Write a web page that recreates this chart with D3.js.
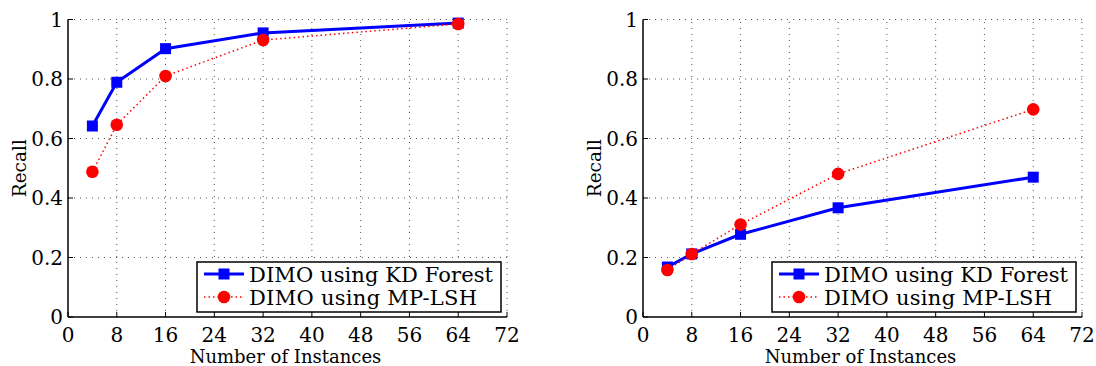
<!DOCTYPE html>
<html lang="en">
<head>
    <meta charset="UTF-8">
    <title>Recall vs Number of Instances</title>
    <script src="https://d3js.org/d3.v7.min.js"></script>
    <style>
        body { margin: 0; background: #fff; }
        svg text { font-family: "DejaVu Serif", serif; }
    </style>
</head>
<body>
    <svg width="1096" height="366"></svg>
    <script>
        // data
        const instances = [4, 8, 16, 32, 64];
        const leftKD = [0.642, 0.789, 0.902, 0.955, 0.988];
        const leftLSH = [0.488, 0.646, 0.810, 0.931, 0.985];
        const rightKD = [0.168, 0.212, 0.278, 0.367, 0.470];
        const rightLSH = [0.158, 0.212, 0.311, 0.481, 0.698];

        const xTicks = [0, 8, 16, 24, 32, 40, 48, 56, 64, 72];
        const yTicks = [0, 0.2, 0.4, 0.6, 0.8, 1];
        const yTickLabels = ["0", "0.2", "0.4", "0.6", "0.8", "1"];
        const legendNames = ["DIMO using KD Forest", "DIMO using MP-LSH"];

        const svg = d3.select("svg");

        function drawPanel(left, kd, lsh) {
            const w = 439, top = 19.5, bottom = 317;
            const x = d3.scaleLinear().domain([0, 72]).range([left, left + w]);
            const y = d3.scaleLinear().domain([0, 1]).range([bottom, top]);
            const g = svg.append("g");

            // dotted grid
            g.selectAll(".gx").data(xTicks.slice(1)).enter().append("line")
                .attr("x1", d => x(d)).attr("x2", d => x(d))
                .attr("y1", bottom).attr("y2", top)
                .attr("stroke", "#555").attr("stroke-width", 1)
                .attr("stroke-dasharray", "1,5");
            g.selectAll(".gy").data(yTicks.slice(1)).enter().append("line")
                .attr("x1", left).attr("x2", left + w)
                .attr("y1", d => y(d)).attr("y2", d => y(d))
                .attr("stroke", "#555").attr("stroke-width", 1)
                .attr("stroke-dasharray", "1,5");

            // axes lines + inward ticks
            g.append("line").attr("x1", left).attr("x2", left + w)
                .attr("y1", bottom).attr("y2", bottom).attr("stroke", "#000").attr("stroke-width", 1.5);
            g.append("line").attr("x1", left).attr("x2", left)
                .attr("y1", bottom).attr("y2", top).attr("stroke", "#000").attr("stroke-width", 1.5);
            g.selectAll(".tx").data(xTicks).enter().append("line")
                .attr("x1", d => x(d)).attr("x2", d => x(d))
                .attr("y1", bottom).attr("y2", bottom - 5).attr("stroke", "#000");
            g.selectAll(".ty").data(yTicks).enter().append("line")
                .attr("x1", left).attr("x2", left + 5)
                .attr("y1", d => y(d)).attr("y2", d => y(d)).attr("stroke", "#000");

            // tick labels
            g.selectAll(".lx").data(xTicks).enter().append("text")
                .attr("x", d => x(d)).attr("y", 342)
                .attr("text-anchor", "middle").attr("font-size", 20)
                .text(d => d);
            g.selectAll(".ly").data(yTicks).enter().append("text")
                .attr("x", left - 5).attr("y", d => y(d) + 7)
                .attr("text-anchor", "end").attr("font-size", 20)
                .text((d, i) => yTickLabels[i]);

            // axis titles
            g.append("text").attr("x", left + w / 2 - 2).attr("y", 363)
                .attr("text-anchor", "middle").attr("font-size", 18)
                .text("Number of Instances");
            g.append("text")
                .attr("transform", `translate(${left - 42},${(top + bottom) / 2}) rotate(-90)`)
                .attr("text-anchor", "middle").attr("font-size", 18.5)
                .text("Recall");

            const line = d3.line().x(d => x(d[0])).y(d => y(d[1]));
            const kdPts = instances.map((v, i) => [v, kd[i]]);
            const lshPts = instances.map((v, i) => [v, lsh[i]]);

            g.append("path").attr("d", line(kdPts)).attr("fill", "none")
                .attr("stroke", "#0000ff").attr("stroke-width", 3);
            g.selectAll(".sq").data(kdPts).enter().append("rect")
                .attr("x", d => x(d[0]) - 5.5).attr("y", d => y(d[1]) - 5.5)
                .attr("width", 11).attr("height", 11).attr("fill", "#0000ff");

            g.append("path").attr("d", line(lshPts)).attr("fill", "none")
                .attr("stroke", "#ff0000").attr("stroke-width", 1.5)
                .attr("stroke-dasharray", "1.5,3");
            g.selectAll(".ci").data(lshPts).enter().append("circle")
                .attr("cx", d => x(d[0])).attr("cy", d => y(d[1]))
                .attr("r", 6.3).attr("fill", "#ff0000");

            // legend
            const lx = left + w - 310, ly = 262;
            g.append("rect").attr("x", lx).attr("y", ly).attr("width", 304).attr("height", 50)
                .attr("fill", "#fff").attr("stroke", "#000").attr("stroke-width", 1.5);
            [0, 1].forEach(i => {
                const cy = ly + 12 + i * 23;
                const s = g.append("line").attr("x1", lx + 7).attr("x2", lx + 47)
                    .attr("y1", cy).attr("y2", cy);
                if (i === 0) {
                    s.attr("stroke", "#0000ff").attr("stroke-width", 3);
                    g.append("rect").attr("x", lx + 27 - 5.5).attr("y", cy - 5.5)
                        .attr("width", 11).attr("height", 11).attr("fill", "#0000ff");
                } else {
                    s.attr("stroke", "#ff0000").attr("stroke-width", 1.5).attr("stroke-dasharray", "1.5,3");
                    g.append("circle").attr("cx", lx + 27).attr("cy", cy).attr("r", 6.3).attr("fill", "#ff0000");
                }
                g.append("text").attr("x", lx + 52).attr("y", cy + 8)
                    .attr("font-size", 21)
                    .attr("textLength", i === 0 ? 244 : 228).attr("lengthAdjust", "spacing")
                    .text(legendNames[i]);
            });
        }

        drawPanel(68, leftKD, leftLSH);
        drawPanel(643, rightKD, rightLSH);
    </script>
</body>
</html>
